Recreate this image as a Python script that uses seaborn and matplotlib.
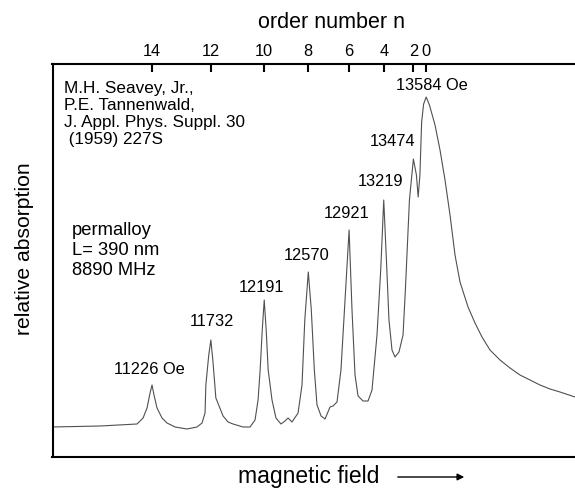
import matplotlib
matplotlib.use("Agg")
import matplotlib.pyplot as plt
import seaborn as sns
import pandas as pd

# ---- data: measured spectrum (field in Oe, absorption in arbitrary units) ----
field = [10366, 10779, 11097, 11149, 11183, 11209, 11226, 11243, 11269, 11312,
         11355, 11424, 11527, 11613, 11656, 11682, 11689, 11714, 11732, 11749,
         11775, 11837, 11880, 11923, 12009, 12069, 12112, 12138, 12156, 12174,
         12191, 12208, 12225, 12258, 12292, 12335, 12370, 12396, 12430, 12482,
         12516, 12540, 12570, 12596, 12622, 12645, 12680, 12714, 12757, 12783,
         12817, 12851, 12886, 12921, 12946, 12972, 12998, 13041, 13084, 13118,
         13161, 13193, 13219, 13244, 13264, 13290, 13316, 13350, 13385, 13405,
         13440, 13474, 13500, 13515, 13530, 13545, 13562, 13584, 13612, 13660,
         13703, 13746, 13789, 13832, 13875, 13944, 14004, 14064, 14133, 14219,
         14305, 14391, 14477, 14563, 14649, 14735, 14864]
absorption = [29, 30, 32, 38, 48, 63, 71, 61, 48, 38,
              33, 29, 27, 29, 33, 43, 71, 101, 116, 96,
              58, 40, 34, 32, 29, 29, 36, 56, 86, 126,
              156, 126, 86, 56, 38, 32, 35, 38, 34, 43,
              71, 136, 184, 146, 86, 51, 40, 37, 49, 50,
              54, 86, 156, 226, 146, 81, 60, 55, 55, 66,
              121, 186, 256, 191, 136, 106, 99, 104, 121, 166,
              256, 297, 281, 259, 281, 334, 352, 359, 351, 331,
              306, 276, 241, 201, 174, 149, 133, 119, 106, 96,
              88, 81, 76, 71, 67, 64, 59]

# resonance peaks and their order numbers
peak_fields = [11226, 11732, 12191, 12570, 12921, 13219, 13474, 13584]
order_n = [14, 12, 10, 8, 6, 4, 2, 0]
peak_labels = ["11226 Oe", "11732", "12191", "12570", "12921", "13219", "13474", "13584 Oe"]

# ---- layout ----
label_x = [11200, 11742, 12163, 12559, 12903, 13187, 13299, 13634]
label_y = [86, 134, 168, 201, 242, 274, 314, 371]

W, H = 575, 488
sns.set_style("white")
plt.rcParams["font.family"] = ["Liberation Sans", "DejaVu Sans"]
plt.rcParams["text.color"] = "black"
plt.rcParams["xtick.color"] = "black"

fig = plt.figure(figsize=(W / 100, H / 100), dpi=100)
ax = fig.add_axes([52.5 / W, 1 - 457 / H, 1 - 52.5 / W, (457 - 63.5) / H])

df = pd.DataFrame({"field": field, "absorption": absorption})
sns.lineplot(data=df, x="field", y="absorption", ax=ax, color="#505050",
             linewidth=0.8, sort=False)

ax.set_xlim(10370, 14864)
ax.set_ylim(-1, 392.5)
ax.set_xlabel("")
ax.set_ylabel("")
ax.set_yticks([])

ax.xaxis.tick_top()
ax.set_xticks(peak_fields)
ax.set_xticklabels([str(n) for n in order_n])
ax.tick_params(axis="x", direction="in", length=6, width=1.5, pad=3,
               labelsize=11.8, colors="black", labelcolor="black", top=True, bottom=False)

for s in ["top", "left", "bottom"]:
    ax.spines[s].set_visible(True)
    ax.spines[s].set_color("black")
    ax.spines[s].set_linewidth(1.5)
ax.spines["right"].set_visible(False)

for lx, ly, txt in zip(label_x, label_y, peak_labels):
    ax.text(lx, ly, txt, ha="center", va="center", fontsize=11.8, color="black")

def ftext(x, y, s, **kw):
    fig.text(x / W, 1 - y / H, s, color="black", **kw)

ftext(332, 22.7, "order number n", ha="center", va="center", fontsize=15.5)
ftext(25, 249, "relative absorption", ha="center", va="center", rotation=90, fontsize=15.2)
ftext(308.5, 477, "magnetic field", ha="center", va="center", fontsize=16.5)
fig.add_artist(matplotlib.patches.FancyArrowPatch(
    (395 / W, 1 - 477 / H), (467 / W, 1 - 477 / H), transform=fig.transFigure,
    arrowstyle="-|>", mutation_scale=10, lw=1.0, color="black"))

cite = "M.H. Seavey, Jr.,\nP.E. Tannenwald,\nJ. Appl. Phys. Suppl. 30\n (1959) 227S"
ftext(64, 81, cite, ha="left", va="top", fontsize=12.3, linespacing=1.17)
sample = "permalloy\nL= 390 nm\n8890 MHz"
ftext(71.7, 222, sample, ha="left", va="top", fontsize=13.2, linespacing=1.22)

fig.savefig("out.png", dpi=100)
